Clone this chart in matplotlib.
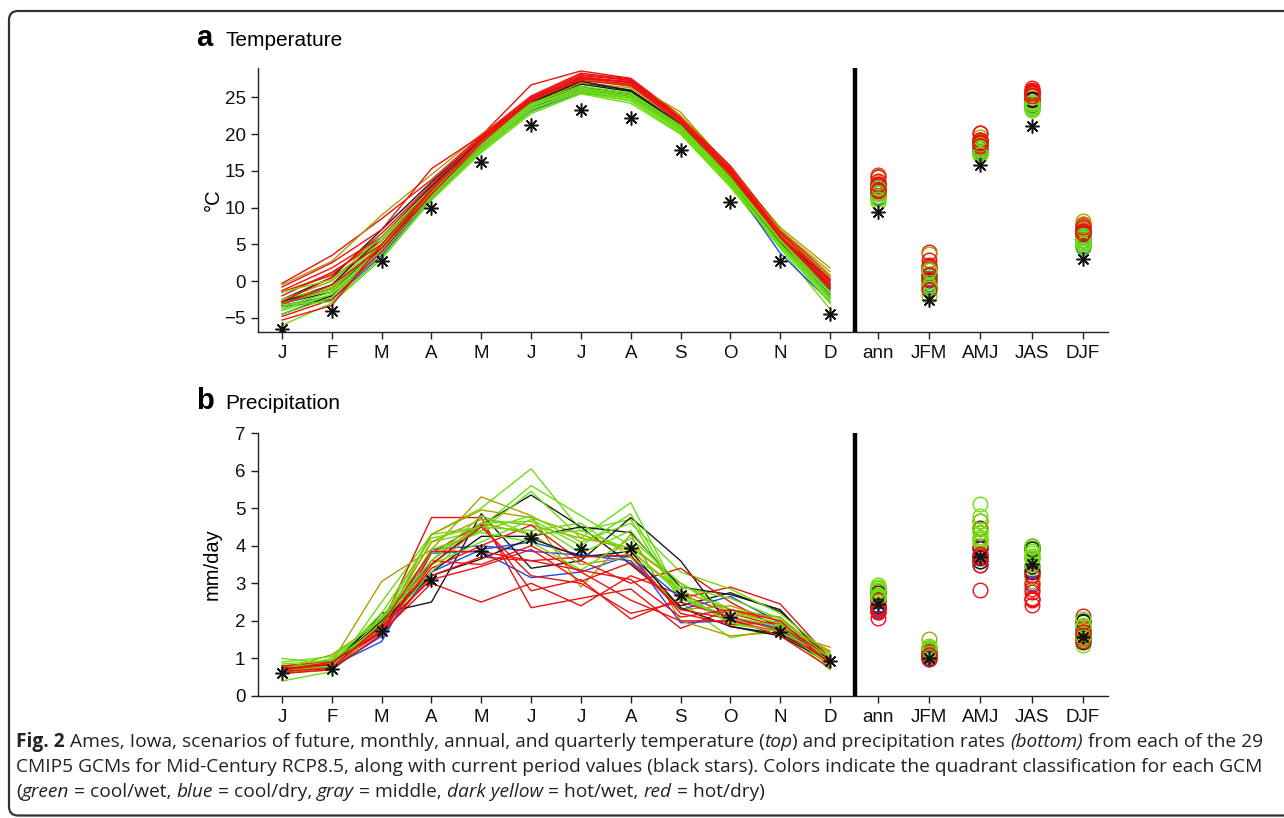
import numpy as np
import matplotlib
matplotlib.use("Agg")
import matplotlib.pyplot as plt
from matplotlib.patches import FancyBboxPatch
from matplotlib import font_manager as fm

# ---------------- data ----------------
months = ["J", "F", "M", "A", "M", "J", "J", "A", "S", "O", "N", "D"]
season_labels = ["ann", "JFM", "AMJ", "JAS", "DJF"]
# month indices averaged for each seasonal column
season_months = [list(range(12)), [0, 1, 2], [3, 4, 5], [6, 7, 8], [9, 10, 11]]

temp_current = [-6.5, -4.0, 2.8, 10.0, 16.2, 21.3, 23.3, 22.2, 17.8, 10.8, 2.8, -4.5]
precip_current = [0.60, 0.72, 1.72, 3.08, 3.85, 4.20, 3.90, 3.95, 2.70, 2.10, 1.70, 0.92]

temp_red = [
    [-0.3, 3.5, 8.5, 13.8, 19.8, 26.7, 28.6, 27.6, 22.5, 15.5, 6.8, 0.5],
    [-0.8, 2.5, 7.0, 15.3, 19.8, 25.2, 28.3, 27.5, 22.3, 15.7, 7.0, 0.8],
    [-1.3, 1.8, 6.0, 13.0, 19.5, 25.0, 28.0, 27.3, 22.0, 15.2, 6.5, 0.3],
    [-2.0, 1.2, 5.5, 12.5, 19.3, 24.8, 27.8, 27.0, 21.8, 15.0, 6.3, 0.0],
    [-2.8, 0.5, 5.0, 12.0, 19.0, 24.5, 27.5, 27.2, 22.0, 14.8, 6.0, -0.5],
    [-1.5, 0.8, 6.5, 13.2, 19.6, 24.9, 27.6, 26.8, 21.5, 14.5, 5.8, -0.3],
    [-3.2, -0.5, 4.5, 12.3, 19.2, 25.0, 28.1, 27.4, 22.2, 15.3, 6.6, 0.2],
    [-4.8, -2.5, 4.0, 11.8, 18.8, 24.6, 27.7, 27.1, 21.9, 15.0, 6.2, -0.8],
    [-5.3, -3.3, 5.0, 12.5, 19.1, 24.8, 27.3, 26.6, 21.6, 14.6, 5.9, -1.0],
]
temp_olive = [
    [-0.5, 2.7, 9.0, 14.5, 20.0, 24.5, 27.8, 27.0, 23.0, 15.3, 7.3, 1.8],
    [-1.5, 1.0, 6.0, 13.0, 19.5, 24.8, 27.5, 26.5, 22.5, 15.0, 7.0, 1.3],
    [-2.5, 0.0, 5.5, 12.5, 19.0, 24.5, 27.3, 26.8, 22.0, 14.5, 6.5, 0.8],
    [-3.0, -1.0, 5.0, 12.0, 18.8, 24.0, 27.0, 26.3, 21.5, 14.3, 6.3, 0.5],
]
temp_black = [
    [-2.5, 0.5, 7.0, 13.5, 19.5, 24.5, 27.0, 26.0, 21.5, 14.5, 6.0, 0.0],
    [-3.0, -1.5, 5.0, 12.5, 19.0, 24.2, 26.8, 25.8, 21.2, 14.0, 5.5, -0.5],
    [-4.5, -2.0, 4.5, 12.0, 18.5, 24.0, 26.5, 25.3, 21.0, 14.2, 5.8, -0.8],
    [-2.8, -0.5, 6.0, 12.8, 19.2, 24.3, 27.2, 25.9, 21.4, 13.8, 5.3, -1.2],
]
temp_blue = [
    [-3.3, -2.0, 4.0, 11.5, 18.0, 23.5, 26.2, 25.5, 21.0, 13.5, 3.8, -2.8],
    [-3.5, -2.5, 3.5, 11.2, 18.2, 23.2, 25.6, 25.0, 20.5, 13.8, 5.0, -2.2],
    [-2.8, -1.0, 5.0, 12.0, 18.5, 23.8, 26.0, 25.2, 20.8, 13.5, 5.2, -1.8],
]
temp_green = [
    [-6.0, -3.0, 3.0, 11.0, 17.5, 22.8, 25.5, 24.2, 20.0, 12.8, 4.5, -3.8],
    [-4.0, -2.0, 3.8, 11.3, 17.8, 23.2, 25.7, 24.5, 20.2, 13.0, 4.8, -3.0],
    [-3.5, -1.5, 4.5, 11.8, 18.2, 23.5, 25.8, 24.8, 20.5, 13.2, 5.0, -2.5],
    [-3.0, -1.2, 5.0, 12.0, 18.5, 23.8, 26.0, 25.0, 20.6, 13.5, 5.3, -2.0],
    [-2.5, -0.8, 5.5, 12.3, 18.8, 24.0, 26.2, 25.2, 20.8, 13.7, 5.5, -1.6],
    [-3.8, -1.8, 4.2, 11.5, 18.0, 23.3, 25.9, 24.9, 20.4, 13.3, 5.1, -2.3],
    [-4.5, -2.2, 4.8, 12.1, 18.6, 23.9, 26.3, 25.4, 21.0, 13.9, 5.6, -1.4],
    [-1.5, 0.2, 6.0, 12.6, 19.0, 24.2, 26.5, 25.6, 21.2, 14.0, 5.8, -1.0],
    [-3.2, -2.8, 3.2, 11.2, 17.7, 23.0, 25.6, 24.6, 20.1, 13.1, 4.7, -2.8],
]

precip_red = [
    [0.75, 0.95, 1.90, 4.75, 4.75, 2.35, 2.60, 2.85, 1.80, 2.30, 1.90, 0.85],
    [0.70, 0.80, 1.70, 3.00, 2.50, 3.00, 2.40, 3.20, 2.70, 2.20, 1.85, 0.90],
    [0.65, 0.75, 1.60, 3.80, 4.60, 2.80, 3.10, 2.05, 2.60, 2.90, 2.45, 1.00],
    [0.80, 0.90, 1.80, 3.40, 4.00, 4.55, 3.60, 3.00, 3.40, 2.50, 1.80, 0.80],
    [0.70, 0.85, 1.75, 3.60, 3.50, 4.00, 3.30, 2.55, 2.00, 2.00, 1.70, 0.95],
    [0.60, 0.70, 1.65, 3.20, 3.70, 3.60, 3.70, 3.75, 2.20, 1.90, 1.95, 1.00],
    [0.75, 0.80, 1.85, 3.10, 3.45, 3.90, 3.05, 3.55, 2.30, 2.05, 1.60, 0.75],
    [0.70, 0.90, 1.70, 3.50, 4.50, 3.20, 3.00, 2.20, 2.50, 2.10, 1.75, 0.90],
    [0.65, 0.75, 1.90, 3.85, 3.85, 3.60, 3.35, 3.10, 2.10, 2.30, 2.00, 0.85],
]
precip_olive = [
    [0.60, 0.90, 3.05, 3.90, 5.30, 4.80, 2.90, 4.30, 2.00, 1.60, 1.70, 1.30],
    [0.60, 0.70, 1.80, 4.30, 4.95, 4.75, 4.30, 3.85, 2.80, 2.30, 1.90, 1.20],
    [0.80, 0.90, 1.90, 4.10, 4.70, 4.55, 4.20, 3.95, 3.00, 2.20, 2.10, 1.00],
    [0.70, 1.10, 2.00, 3.60, 4.60, 4.30, 3.50, 3.70, 2.30, 2.40, 2.00, 1.15],
]
precip_black = [
    [0.70, 0.85, 2.10, 3.50, 4.55, 5.35, 4.50, 3.50, 2.40, 2.75, 2.25, 1.00],
    [0.65, 0.75, 2.20, 2.50, 4.85, 3.40, 3.60, 4.75, 3.60, 1.85, 1.65, 0.95],
    [0.75, 0.90, 1.90, 3.30, 4.25, 4.25, 4.50, 4.35, 2.90, 2.70, 2.30, 0.90],
    [0.60, 0.80, 2.00, 3.20, 3.65, 4.20, 3.70, 3.85, 2.35, 1.85, 1.60, 0.90],
]
precip_blue = [
    [0.70, 0.80, 1.45, 3.80, 3.85, 3.15, 3.30, 3.75, 1.95, 2.00, 1.90, 0.95],
    [0.75, 0.95, 1.70, 3.90, 4.00, 3.85, 3.75, 3.60, 2.30, 2.65, 1.95, 0.85],
    [0.65, 0.75, 1.60, 3.30, 3.90, 4.10, 3.75, 3.70, 2.60, 2.10, 1.80, 0.90],
]
precip_green = [
    [0.40, 0.65, 2.50, 4.30, 5.00, 6.05, 4.40, 4.70, 2.50, 1.55, 1.80, 0.70],
    [1.00, 0.85, 2.00, 4.30, 4.50, 5.60, 4.80, 4.00, 3.00, 2.30, 2.10, 0.95],
    [0.80, 0.90, 1.90, 4.10, 4.40, 5.45, 4.20, 5.15, 2.60, 2.00, 1.90, 1.05],
    [0.70, 1.00, 2.10, 3.80, 4.40, 4.80, 4.10, 4.60, 3.30, 2.85, 2.20, 1.10],
    [0.60, 0.80, 1.80, 3.30, 4.60, 4.65, 3.80, 4.40, 2.80, 1.90, 1.75, 0.85],
    [0.75, 0.90, 2.20, 4.20, 4.50, 4.40, 4.60, 3.70, 2.90, 2.60, 2.05, 1.00],
    [0.85, 0.95, 1.85, 3.90, 4.35, 4.10, 3.35, 4.20, 3.00, 2.20, 1.95, 0.90],
    [0.65, 0.80, 1.95, 3.50, 4.10, 4.70, 4.00, 4.85, 2.60, 2.10, 1.85, 0.80],
    [0.90, 1.05, 2.05, 3.60, 4.80, 4.30, 4.40, 3.90, 2.70, 1.95, 1.70, 1.05],
]

group_colors = {
    "red": "#EE1111",
    "olive": "#ABA000",
    "black": "#1A1A1A",
    "blue": "#2448E8",
    "green": "#6EDD10",
}
group_names = ["green", "red", "blue", "olive", "black"]

temp_groups = {"red": temp_red, "olive": temp_olive, "black": temp_black,
               "blue": temp_blue, "green": temp_green}
precip_groups = {"red": precip_red, "olive": precip_olive, "black": precip_black,
                 "blue": precip_blue, "green": precip_green}

caption_lines = [
    [("Fig. 2", "normal", "bold", False),
     ("Ames, Iowa, scenarios of future, monthly, annual, and quarterly temperature (", "normal", "normal", True),
     ("top", "italic", "normal", False),
     (") and precipitation rates", "normal", "normal", False),
     ("(bottom)", "italic", "normal", True),
     ("from each of the 29", "normal", "normal", True)],
    [("CMIP5 GCMs for Mid-Century RCP8.5, along with current period values (black stars). Colors indicate the quadrant classification for each GCM",
      "normal", "normal", False)],
    [("(", "normal", "normal", False),
     ("green", "italic", "normal", False),
     ("= cool/wet,", "normal", "normal", True),
     ("blue", "italic", "normal", True),
     ("= cool/dry,", "normal", "normal", True),
     ("gray", "italic", "normal", True),
     ("= middle,", "normal", "normal", True),
     ("dark yellow", "italic", "normal", True),
     ("= hot/wet,", "normal", "normal", True),
     ("red", "italic", "normal", True),
     ("= hot/dry)", "normal", "normal", True)],
]

# ---------------- layout ----------------
W, H = 1284, 818
fig = plt.figure(figsize=(W / 100, H / 100), dpi=100)
plt.rcParams["font.family"] = ["Liberation Sans", "DejaVu Sans"]

month_x = np.arange(1, 13)
season_x = 11.93 + 1.03 * np.arange(1, 6)
x_lo, x_hi = 0.518, 17.58


def px_axes(left, top, right, bottom):
    return fig.add_axes([left / W, 1 - bottom / H, (right - left) / W, (bottom - top) / H])


def interleaved(groups):
    # round-robin over the colour groups so no single colour sits on top
    out = []
    n = max(len(groups[g]) for g in group_names)
    for i in range(n):
        for g in group_names:
            if i < len(groups[g]):
                out.append((g, groups[g][i]))
    return out


def draw_panel(ax, groups, current, ylim, yticks):
    models = interleaved(groups)
    for g, s in models:
        ax.plot(month_x, s, color=group_colors[g], lw=1.0, zorder=2)
    for g, s in models:
        arr = np.asarray(s)
        vals = [arr[idx].mean() for idx in season_months]
        ax.plot(season_x, vals, ls="none", marker="o", ms=10.5, mfc="none",
                mec=group_colors[g], mew=1.0, zorder=3)
    cur = np.asarray(current)
    ax.plot(month_x, cur, ls="none", marker=(8, 2, 0), ms=10, color="#111111", mew=1.1, zorder=5)
    ax.plot(season_x, [cur[idx].mean() for idx in season_months], ls="none",
            marker=(8, 2, 0), ms=10, color="#111111", mew=1.1, zorder=5)
    ax.axvline(12.5, color="black", lw=3.2, zorder=6)
    ax.set_xlim(x_lo, x_hi)
    ax.set_ylim(*ylim)
    ax.set_xticks(list(month_x) + list(season_x))
    ax.set_xticklabels(months + season_labels)
    ax.set_yticks(yticks)
    ax.set_yticklabels([str(t).replace("-", "\u2212") for t in yticks])
    for side in ("top", "right"):
        ax.spines[side].set_visible(False)
    for side in ("left", "bottom"):
        ax.spines[side].set_linewidth(1.0)
        ax.spines[side].set_color("#222222")
    ax.tick_params(axis="both", direction="out", length=5, width=1.0, color="#222222",
                   labelsize=13.5, pad=4, labelcolor="#111111")


ax1 = px_axes(258, 68, 1108, 332)
draw_panel(ax1, temp_groups, temp_current, (-6.92, 29.0), [-5, 0, 5, 10, 15, 20, 25])
ax1.set_ylabel("°C", fontsize=14.5, labelpad=1)

ax2 = px_axes(258, 433, 1108, 696)
draw_panel(ax2, precip_groups, precip_current, (0, 7), [0, 1, 2, 3, 4, 5, 6, 7])
ax2.set_ylabel("mm/day", fontsize=14.5, labelpad=9.5)

# panel titles
fig.text(196 / W, 1 - 46 / H, "a", fontsize=21, weight="bold", va="baseline")
fig.text(225 / W, 1 - 46 / H, "Temperature", fontsize=15, va="baseline")
fig.text(196 / W, 1 - 409 / H, "b", fontsize=21, weight="bold", va="baseline")
fig.text(225 / W, 1 - 409 / H, "Precipitation", fontsize=15, va="baseline")

# border
box = FancyBboxPatch((9, 2.5), 1320, H - 13.5, boxstyle="round,pad=0,rounding_size=9",
                     transform=None, fill=False, lw=1.6, ec="#333333", clip_on=False)
fig.patches.append(box)

# caption
names = {f.name for f in fm.fontManager.ttflist}
cap_family = ["Liberation Sans Narrow"] if "Liberation Sans Narrow" in names else ["Open Sans"]
renderer = fig.canvas.get_renderer()


def measure(txt, size, style, weight):
    t = fig.text(0, 0, txt, fontsize=size, family=cap_family, style=style, weight=weight)
    w = t.get_window_extent(renderer).width
    t.remove()
    return w


def line_width(parts, size):
    sp = measure("x x", size, "normal", "normal") - measure("xx", size, "normal", "normal")
    total = 0
    for txt, st, wt, gap in parts:
        if gap:
            total += sp
        total += measure(txt, size, st, wt)
    return total


base = 12.0
size = base * 1246 / line_width(caption_lines[0], base)
sp = measure("x x", size, "normal", "normal") - measure("xx", size, "normal", "normal")
for li, parts in enumerate(caption_lines):
    x = 16
    yb = 747 + 25 * li
    for txt, st, wt, gap in parts:
        if gap:
            x += sp
        t = fig.text(x / W, 1 - yb / H, txt, fontsize=size, family=cap_family, style=st,
                     weight=wt, va="baseline", ha="left", color="#222222")
        x += t.get_window_extent(renderer).width

fig.savefig("out.png", dpi=100)
